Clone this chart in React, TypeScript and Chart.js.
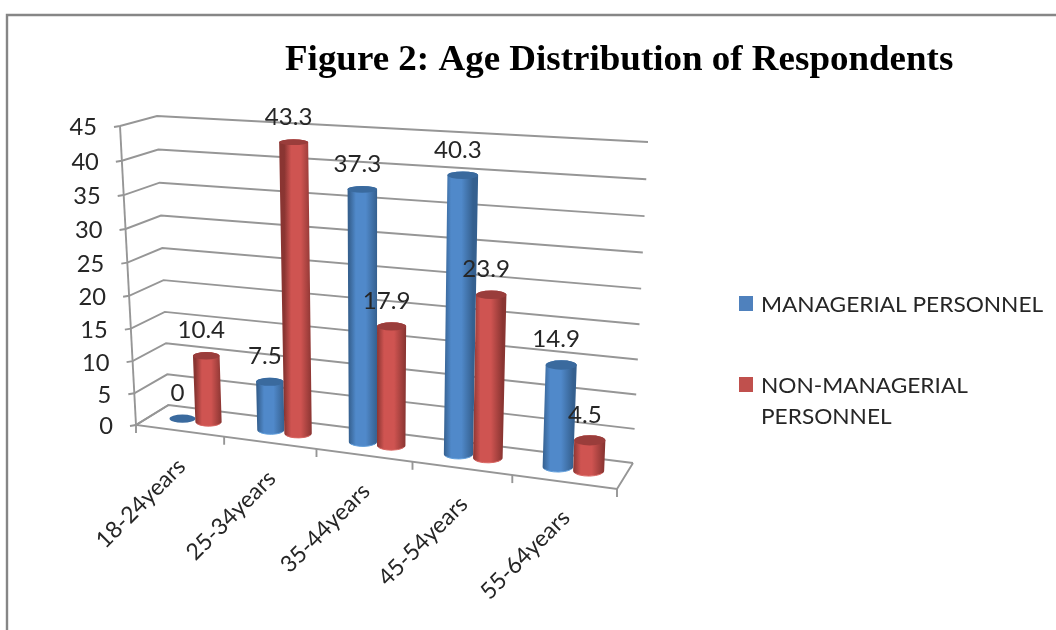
import React, { useEffect, useRef } from "react";
import { Chart, BarController, BarElement, CategoryScale, LinearScale } from "chart.js";

const TITLE = "Figure 2: Age Distribution of Respondents";
const AGE_GROUPS = ["18-24years", "25-34years", "35-44years", "45-54years", "55-64years"];
const MANAGERIAL = [0, 7.5, 37.3, 40.3, 14.9];
const NON_MANAGERIAL = [10.4, 43.3, 17.9, 23.9, 4.5];
const SERIES_NAMES = ["MANAGERIAL PERSONNEL", "NON-MANAGERIAL PERSONNEL"];
const LEGEND_LINES = [["MANAGERIAL PERSONNEL"], ["NON-MANAGERIAL", "PERSONNEL"]];
const VALUE_TICKS = [0, 5, 10, 15, 20, 25, 30, 35, 40, 45];

const BLUE = { edge: "#35608f", mid: "#5089ca", cap: "#3a6a9e", rim: "#5f9ddb", key: "#4f81bd" };
const RED = { edge: "#8a3532", mid: "#cf5451", cap: "#9a3d3b", rim: "#d96561", key: "#c0504d" };

const INK = "#262626";
const RULE = "#969696";
const UI_FONT = "Lato";

type Pt = { x: number; y: number };
type Quad = [number, number][];

// Floor corners of the 3-D box, front-left, front-right, back-right, back-left,
// and how far each corner's vertical edge leans and rises up to the top of the value axis.
const FLOOR: Quad = [[136, 425], [617, 489], [633, 463], [168.5, 405]];
const RISE: Quad = [[-16, -299], [13, -324], [15, -321], [-11.5, -289]];

function homography(q: Quad) {
  const [[x0, y0], [x1, y1], [x2, y2], [x3, y3]] = q;
  const dx1 = x1 - x2, dx2 = x3 - x2, sx = x0 - x1 + x2 - x3;
  const dy1 = y1 - y2, dy2 = y3 - y2, sy = y0 - y1 + y2 - y3;
  const den = dx1 * dy2 - dx2 * dy1;
  const g = (sx * dy2 - dx2 * sy) / den;
  const h = (dx1 * sy - sx * dy1) / den;
  const a = x1 - x0 + g * x1, b = x3 - x0 + h * x3;
  const d = y1 - y0 + g * y1, e = y3 - y0 + h * y3;
  return (u: number, w: number): Pt => {
    const k = g * u + h * w + 1;
    return { x: (a * u + b * w + x0) / k, y: (d * u + e * w + y0) / k };
  };
}

const floorMap = homography(FLOOR);

function riseAt(u: number, depth: number, axis: 0 | 1) {
  const front = RISE[0][axis] + (RISE[1][axis] - RISE[0][axis]) * u;
  const back = RISE[3][axis] + (RISE[2][axis] - RISE[3][axis]) * u;
  return front + (back - front) * depth;
}

// u: across the categories, depth: front (0) to back (1), v: floor (0) to top of the axis (1).
function project(u: number, depth: number, v: number): Pt {
  const across = u + 0.012 * Math.sin(Math.PI * u);
  const a = floorMap(across, depth);
  const t = 0.95 * v + 0.05 * v * v;
  return { x: a.x + riseAt(u, depth, 0) * t, y: a.y + riseAt(u, depth, 1) * t };
}

const toU = (chart: any, px: number) => (px - chart.chartArea.left) / chart.chartArea.width;
const toV = (chart: any, py: number) => (chart.chartArea.bottom - py) / chart.chartArea.height;

function ring(u: number, du: number, v: number) {
  const c = project(u, 0.5, v);
  const left = project(u - du / 2, 0.5, v);
  const right = project(u + du / 2, 0.5, v);
  const near = project(u, 0.3, v);
  const far = project(u, 0.7, v);
  return { x: c.x, y: c.y, rx: Math.abs(right.x - left.x) / 2, ry: Math.abs(near.y - far.y) / 2 };
}

// Bar element that paints its rectangle as an upright cylinder inside the 3-D box.
class CylinderElement extends BarElement {
  static id = "cylinderBar";
  paint(ctx: CanvasRenderingContext2D, chart: any, palette: typeof BLUE) {
    const self = this as any;
    const u = toU(chart, self.x);
    const du = self.width / chart.chartArea.width;
    const top = ring(u, du, toV(chart, self.y));
    const bottom = ring(u, du, toV(chart, self.base));

    ctx.save();
    if (self.base - self.y > 0.5) {
      const grad = ctx.createLinearGradient(bottom.x - bottom.rx, 0, bottom.x + bottom.rx, 0);
      grad.addColorStop(0, palette.edge);
      grad.addColorStop(0.25, palette.mid);
      grad.addColorStop(0.6, palette.mid);
      grad.addColorStop(1, palette.edge);
      ctx.beginPath();
      ctx.moveTo(top.x - top.rx, top.y);
      ctx.lineTo(bottom.x - bottom.rx, bottom.y);
      ctx.ellipse(bottom.x, bottom.y, bottom.rx, bottom.ry, 0, Math.PI, 0, true);
      ctx.lineTo(top.x + top.rx, top.y);
      ctx.ellipse(top.x, top.y, top.rx, top.ry, 0, 0, Math.PI, true);
      ctx.closePath();
      ctx.fillStyle = grad;
      ctx.fill();
      ctx.beginPath();
      ctx.ellipse(bottom.x, bottom.y, bottom.rx - 0.5, bottom.ry, 0, Math.PI * 0.85, Math.PI * 0.15, true);
      ctx.strokeStyle = palette.rim;
      ctx.lineWidth = 1;
      ctx.stroke();
    }
    ctx.beginPath();
    ctx.ellipse(top.x, top.y, top.rx, top.ry, 0, 0, Math.PI * 2);
    ctx.fillStyle = palette.cap;
    ctx.fill();
    ctx.restore();
  }
}

// Paints all series from the first controller so the later series sits on top of the earlier one.
class CylinderController extends BarController {
  static id = "cylinder";
  static defaults = { ...BarController.defaults, dataElementType: "cylinderBar" };
  draw() {
    const self = this as any;
    if (self.index !== 0) return;
    const chart = self.chart;
    [BLUE, RED].forEach((palette, di) => {
      chart.getDatasetMeta(di).data.forEach((bar: CylinderElement) => bar.paint(chart.ctx, chart, palette));
    });
  }
}

function line(ctx: CanvasRenderingContext2D, pts: Pt[]) {
  ctx.beginPath();
  pts.forEach((p, i) => (i ? ctx.lineTo(p.x, p.y) : ctx.moveTo(p.x, p.y)));
  ctx.stroke();
}

// Text widened horizontally, to the proportions of the chart's typeface.
function wideText(ctx: CanvasRenderingContext2D, text: string, x: number, y: number, stretch: number) {
  ctx.save();
  ctx.translate(x, y);
  ctx.scale(stretch, 1);
  ctx.fillText(text, 0, 0);
  ctx.restore();
}

// Box walls, floor, ticks, axis text, title, frame and legend.
const boxPlugin = {
  id: "box",
  beforeDatasetsDraw(chart: any) {
    const ctx: CanvasRenderingContext2D = chart.ctx;
    const xs = chart.scales.x;
    const ys = chart.scales.y;
    ctx.save();

    // outer frame
    ctx.strokeStyle = "#868686";
    ctx.lineWidth = 2.4;
    ctx.beginPath();
    ctx.moveTo(7, 630);
    ctx.lineTo(7, 15);
    ctx.lineTo(1056, 15);
    ctx.stroke();

    ctx.fillStyle = "#000";
    ctx.font = `bold 35px "Liberation Serif"`;
    ctx.textAlign = "left";
    ctx.textBaseline = "alphabetic";
    wideText(ctx, TITLE, 285, 70, 1.057);

    ctx.strokeStyle = RULE;
    ctx.lineWidth = 1.9;
    ctx.font = `23px ${UI_FONT}`;
    ctx.textAlign = "right";
    ctx.textBaseline = "middle";
    for (const tick of VALUE_TICKS) {
      const v = toV(chart, ys.getPixelForValue(tick));
      const front = project(0, 0, v);
      line(ctx, [{ x: front.x - 6, y: front.y + 1 }, front, project(0, 1, v), project(1, 1, v)]);
      ctx.fillStyle = INK;
      wideText(ctx, String(tick), front.x - 23, front.y + 2, 1.03);
    }
    line(ctx, [project(0, 0, 0), project(0, 0, 1)]);
    line(ctx, [project(0, 1, 0), project(0, 0, 0), project(1, 0, 0), project(1, 1, 0)]);

    // category ticks along the front edge, on the boundaries between categories
    for (let i = 0; i <= AGE_GROUPS.length; i++) {
      const edgePx = i < AGE_GROUPS.length
        ? xs.getPixelForValue(i) - xs.width / AGE_GROUPS.length / 2
        : xs.right;
      const p = project(toU(chart, edgePx), 0, 0);
      line(ctx, [p, { x: p.x, y: p.y + 8 }]);
    }

    ctx.fillStyle = INK;
    ctx.font = `23px ${UI_FONT}`;
    AGE_GROUPS.forEach((label, i) => {
      const p = project(toU(chart, xs.getPixelForValue(i)), 0, 0);
      ctx.save();
      ctx.translate(p.x + 2, p.y + 32);
      ctx.rotate((-45 * Math.PI) / 180);
      ctx.textAlign = "right";
      ctx.textBaseline = "middle";
      ctx.fillText(label, 0, 0);
      ctx.restore();
    });

    // legend
    ctx.font = `20.5px ${UI_FONT}`;
    ctx.textAlign = "left";
    ctx.textBaseline = "alphabetic";
    [BLUE, RED].forEach((palette, i) => {
      const top = i === 0 ? 296 : 377;
      ctx.fillStyle = palette.key;
      ctx.fillRect(739, top, 14, 15);
      ctx.fillStyle = INK;
      LEGEND_LINES[i].forEach((text, n) => wideText(ctx, text, 761, top + 16 + n * 31, 1.105));
    });
    ctx.restore();
  },
  afterDatasetsDraw(chart: any) {
    const ctx: CanvasRenderingContext2D = chart.ctx;
    ctx.save();
    ctx.fillStyle = INK;
    ctx.font = `23px ${UI_FONT}`;
    ctx.textAlign = "center";
    ctx.textBaseline = "middle";
    chart.data.datasets.forEach((ds: any, di: number) => {
      chart.getDatasetMeta(di).data.forEach((bar: any, i: number) => {
        const p = project(toU(chart, bar.x), 0.5, toV(chart, bar.y));
        wideText(ctx, String(ds.data[i]), p.x - 5, p.y - 25, 1.05);
      });
    });
    ctx.restore();
  },
};

Chart.register(CylinderController, CylinderElement, BarController, BarElement, CategoryScale, LinearScale);

export default function App() {
  const ref = useRef<HTMLCanvasElement>(null);
  useEffect(() => {
    const chart = new Chart(ref.current!, {
      type: "cylinder" as any,
      data: {
        labels: AGE_GROUPS,
        datasets: [
          { label: SERIES_NAMES[0], data: MANAGERIAL, backgroundColor: BLUE.key },
          { label: SERIES_NAMES[1], data: NON_MANAGERIAL, backgroundColor: RED.key },
        ],
      },
      options: {
        responsive: false,
        animation: false,
        layout: { padding: { left: 40, right: 400, top: 120, bottom: 120 } },
        datasets: { cylinder: { categoryPercentage: 0.6, barPercentage: 1 } } as any,
        scales: {
          x: { type: "category", offset: true, display: false },
          y: { type: "linear", min: 0, max: 45, display: false },
        },
        plugins: { legend: { display: false }, title: { display: false }, tooltip: { enabled: false } },
      } as any,
      plugins: [boxPlugin],
    });
    return () => chart.destroy();
  }, []);
  return (
    <div style={{ position: "fixed", left: 0, top: 0, width: 1056, height: 630, background: "#fff" }}>
      <canvas ref={ref} width={1056} height={630} style={{ display: "block" }} />
    </div>
  );
}
